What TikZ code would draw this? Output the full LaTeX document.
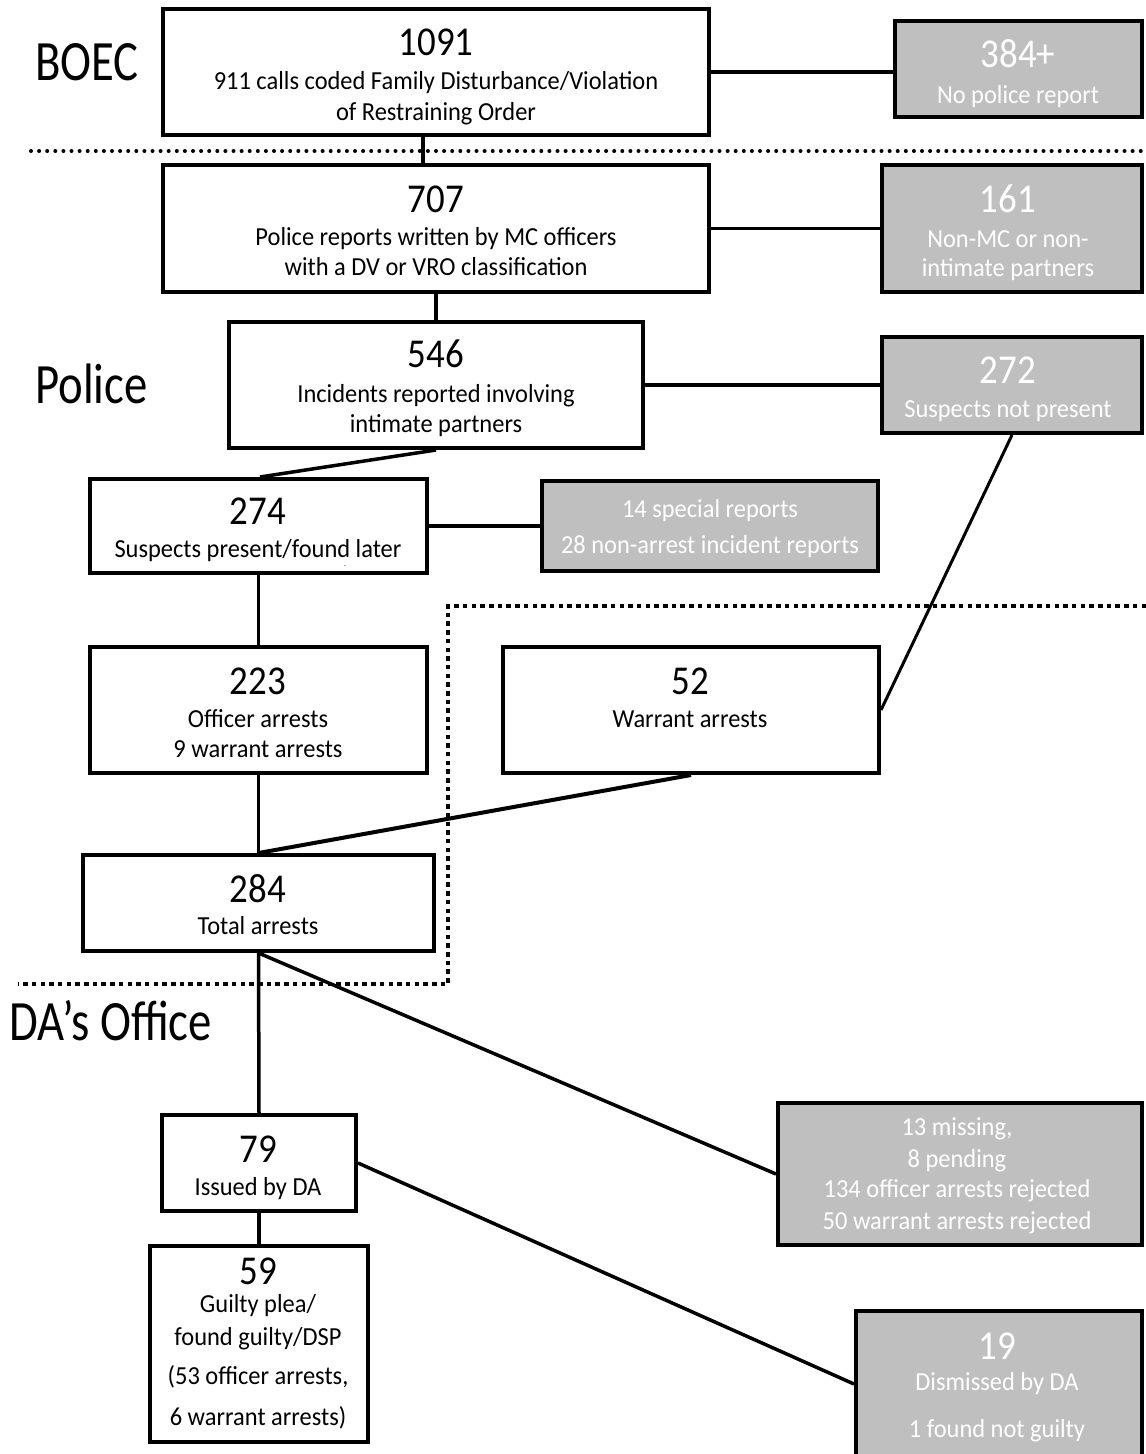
\documentclass[tikz,border=0pt]{standalone}
\usepackage{fontspec}
\setmainfont[FakeStretch=0.94]{Carlito}
\newfontfamily\numfont[FakeStretch=0.9]{Carlito}
\newfontfamily\regfont[FakeStretch=0.82]{Carlito}
\definecolor{boxgray}{RGB}{191,191,191}
\begin{document}
\begin{tikzpicture}[x=1pt,y=-1pt,
  box/.style={draw=black, line width=4pt, fill=white, inner sep=0},
  gbox/.style={draw=black, line width=4pt, fill=boxgray, inner sep=0},
  num/.style={inner sep=0, anchor=base, font=\numfont\fontsize{41}{45}\selectfont},
  lab/.style={inner sep=0, anchor=base, font=\fontsize{26}{30}\selectfont},
  wnum/.style={num, text=white},
  wlab/.style={lab, text=white},
  region/.style={inner sep=0, anchor=base west, font=\regfont\fontsize{57}{60}\selectfont},
  link/.style={line width=3.5pt},
  thinlink/.style={line width=3pt},
  roundsep/.style={line width=4pt, line cap=round, dash pattern=on 0pt off 8.1pt},
  squaresep/.style={line width=4.5pt, dash pattern=on 4.5pt off 4.2pt}
]
\useasboundingbox (0,0) rectangle (1146,1454);

% separators
\draw[roundsep] (31,151) -- (1141,151);
\draw[squaresep] (1146,606) -- (448,606) -- (448,984) -- (18,984);

% region labels
\node[region] (rboec) at (35,80) {BOEC};
\node[region] (rpolice) at (35,403) {Police};
\node[region] (rda) at (9,1040) {DA’s Office};

% boxes
\node[box,  minimum width=546pt, minimum height=126pt] (b1091) at (436,72) {};
\node[gbox, minimum width=247pt, minimum height=96pt]  (g384)  at (1018.5,69) {};
\node[box,  minimum width=546pt, minimum height=127pt] (b707)  at (436,228.5) {};
\node[gbox, minimum width=260pt, minimum height=127pt] (g161)  at (1012,228.5) {};
\node[box,  minimum width=414pt, minimum height=126pt] (b546)  at (436,385) {};
\node[gbox, minimum width=260pt, minimum height=96pt]  (g272)  at (1012,385) {};
\node[box,  minimum width=337pt, minimum height=94pt]  (b274)  at (258.5,526) {};
\node[gbox, minimum width=336pt, minimum height=90pt]  (g14)   at (710,526) {};
\node[box,  minimum width=337pt, minimum height=126pt] (b223)  at (258.5,710) {};
\node[box,  minimum width=376pt, minimum height=126pt] (b52)   at (691,710) {};
\node[box,  minimum width=351pt, minimum height=96pt]  (b284)  at (258.5,903) {};
\node[gbox, minimum width=364pt, minimum height=142pt] (g13)   at (960,1174) {};
\node[box,  minimum width=194pt, minimum height=96pt]  (b79)   at (259,1163) {};
\node[box,  minimum width=218pt, minimum height=196pt] (b59)   at (259,1344) {};
\node[gbox, minimum width=286pt, minimum height=162pt] (g19)   at (999,1392) {};

% connectors
\draw[link] ([xshift=-13pt]b1091.south) -- ([xshift=-13pt]b707.north);
\draw[link] (b1091.east) -- (b1091.east -| g384.west);
\draw[link] (b707.east) -- (g161.west);
\draw[link] (b707.south) -- (b546.north);
\draw[link] (b546.east) -- (g272.west);
\draw[link] (b546.south) -- ([xshift=1.5pt]b274.north);
\draw[link] (b274.east) -- (g14.west);
\draw[link] (b274.south) -- (b223.north);
\draw[thinlink] (g272.south) -- (b52.east);
\draw[link] (b223.south) -- (b284.north);
\draw[line width=4pt] (b52.south) -- (b284.north);
\draw[link] (b284.south) -- (b79.north);
\draw[link] (b284.south) -- (g13.west);
\draw[link] (b79.south) -- (b59.north);
\draw[link] (b79.east) -- ([yshift=8pt]g19.west);

% texts
\node[num] (t1091a) at (436,55) {1091};
\node[lab] (t1091b) at (436,89) {911 calls coded Family Disturbance/Violation};
\node[lab] (t1091c) at (436,120) {of Restraining Order};

\node[wnum] (t384a) at (1018,67) {384+};
\node[wlab] (t384b) at (1018,103) {No police report};

\node[num] (t707a) at (436,212) {707};
\node[lab] (t707b) at (436,245) {Police reports written by MC officers};
\node[lab] (t707c) at (436,275) {with a DV or VRO classification};

\node[wnum] (t161a) at (1008,212) {161};
\node[wlab] (t161b) at (1008,247) {Non-MC or non-};
\node[wlab] (t161c) at (1008,276) {intimate partners};

\node[num] (t546a) at (436,367) {546};
\node[lab] (t546b) at (436,402) {Incidents reported involving};
\node[lab] (t546c) at (436,432) {intimate partners};

\node[wnum] (t272a) at (1008,383) {272};
\node[wlab] (t272b) at (1008,417) {Suspects not present};

\node[num] (t274a) at (258,524) {274};
\node[lab] (t274b) at (258,557) {Suspects present/found later};
\node[inner sep=0, font=\fontsize{8}{8}\selectfont] (t274c) at (345,566) {.};

\node[wlab] (t14a) at (710,517) {14 special reports};
\node[wlab] (t14b) at (710,553) {28 non-arrest incident reports};

\node[num] (t223a) at (258,694) {223};
\node[lab] (t223b) at (258,727) {Officer arrests};
\node[lab] (t223c) at (258,757) {9 warrant arrests};

\node[num] (t52a) at (690,694) {52};
\node[lab] (t52b) at (690,727) {Warrant arrests};

\node[num] (t284a) at (258,902) {284};
\node[lab] (t284b) at (258,934) {Total arrests};

\node[wlab] (t13a) at (957,1135) {13 missing,};
\node[wlab] (t13b) at (957,1167) {8 pending};
\node[wlab] (t13c) at (957,1197) {134 officer arrests rejected};
\node[wlab] (t13d) at (957,1229) {50 warrant arrests rejected};

\node[num] (t79a) at (258,1162) {79};
\node[lab] (t79b) at (258,1195) {Issued by DA};

\node[num] (t59a) at (258,1284) {59};
\node[lab] (t59b) at (258,1312) {Guilty plea/};
\node[lab] (t59c) at (258,1345) {found guilty/DSP};
\node[lab] (t59d) at (258,1384) {(53 officer arrests,};
\node[lab] (t59e) at (258,1425) {6 warrant arrests)};

\node[wnum] (t19a) at (997,1359) {19};
\node[wlab] (t19b) at (997,1390) {Dismissed by DA};
\node[wlab] (t19c) at (997,1437) {1 found not guilty};
\end{tikzpicture}
\end{document}
